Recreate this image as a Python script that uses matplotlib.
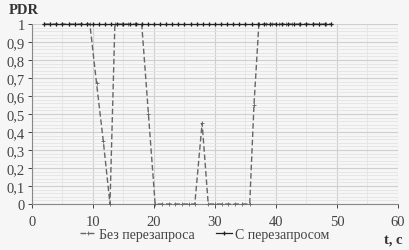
import matplotlib
matplotlib.use("Agg")
import matplotlib.pyplot as plt
from matplotlib.ticker import MultipleLocator, FuncFormatter

# --- data ---
t_with = list(range(2, 50))
pdr_with = [1.0] * len(t_with)

t_without = [2, 3, 4, 5, 6, 7, 8, 9, 9.5, 10.6, 11.7, 12.8, 13.6, 14.7, 15.8, 16.9,
             18.0, 19.1, 20.2, 21.3, 22.4, 23.5, 24.6, 25.7, 26.7, 27.9, 28.9, 30.0,
             31.1, 32.2, 33.3, 34.4, 35.7, 36.4, 37.2, 38.3, 39.4, 40.5, 41.6, 42.7,
             43.8, 44.9, 46.0, 47.1, 48.2, 49.0]
pdr_without = [1, 1, 1, 1, 1, 1, 1, 1, 1, 0.67, 0.35, 0.0, 1, 1, 1, 1,
               1, 0.5, 0.0, 0, 0, 0, 0, 0, 0, 0.45, 0.0, 0,
               0, 0, 0, 0, 0, 0.55, 1, 1, 1, 1, 1, 1,
               1, 1, 1, 1, 1, 1]

x_ticks = [0, 10, 20, 30, 40, 50, 60]
label_without = "Без перезапроса"
label_with = "С перезапросом"

bg = "#f6f6f6"
plt.rcParams['font.family'] = ['Liberation Serif', 'DejaVu Serif']

fig = plt.figure(figsize=(4.09, 2.51), dpi=100, facecolor=bg)
ax = fig.add_axes([0.078, 0.183, 0.895, 0.717], facecolor=bg)

ax.set_xlim(0, 60)
ax.set_ylim(0, 1.0)
ax.xaxis.set_major_locator(MultipleLocator(10))
ax.xaxis.set_minor_locator(MultipleLocator(5))
ax.yaxis.set_major_locator(MultipleLocator(0.1))
ax.yaxis.set_minor_locator(MultipleLocator(0.02))
ax.set_xticks(x_ticks)

ax.grid(which='major', color='#cfcfcf', linewidth=0.8)
ax.grid(which='minor', color='#e4e4e4', linewidth=0.6)
ax.set_axisbelow(True)

def fmt(v, pos):
    s = f"{v:.1f}"
    if s.endswith(".0"):
        s = s[:-2]
    return s.replace(".", ",")
ax.yaxis.set_major_formatter(FuncFormatter(fmt))

for s in ['top', 'right']:
    ax.spines[s].set_visible(False)
ax.spines['left'].set_color('#888888')
ax.spines['bottom'].set_color('#888888')
ax.tick_params(axis='both', which='major', labelsize=10.5, colors='#444444',
               length=3, width=0.7, pad=2)
ax.tick_params(axis='x', which='major', pad=5)
ax.tick_params(axis='both', which='minor', length=0)
for lbl in ax.get_xticklabels() + ax.get_yticklabels():
    lbl.set_color('#444444')

ax.plot(t_without, pdr_without, color='#666666', linestyle=(0, (4, 2)),
        linewidth=1.0, marker='+', markersize=2.5, markeredgewidth=0.6,
        label=label_without, clip_on=False, zorder=3)
ax.plot(t_with, pdr_with, color='#222222', linestyle='-', linewidth=0.9,
        marker='+', markersize=2.8, markeredgewidth=0.9,
        label=label_with, clip_on=False, zorder=4)

fig.text(0.022, 0.945, "PDR", fontsize=10.5, fontweight='bold', color='#333333')
fig.text(0.94, 0.03, "t, c", fontsize=10.5, fontweight='bold', color='#333333')

leg = fig.legend(loc='lower center', bbox_to_anchor=(0.5, -0.015), ncol=2,
                 frameon=False, fontsize=10, handlelength=1.2, handletextpad=0.2,
                 columnspacing=1.5)
for txt in leg.get_texts():
    txt.set_color('#444444')

fig.savefig("out.png", dpi=100, facecolor=bg)
